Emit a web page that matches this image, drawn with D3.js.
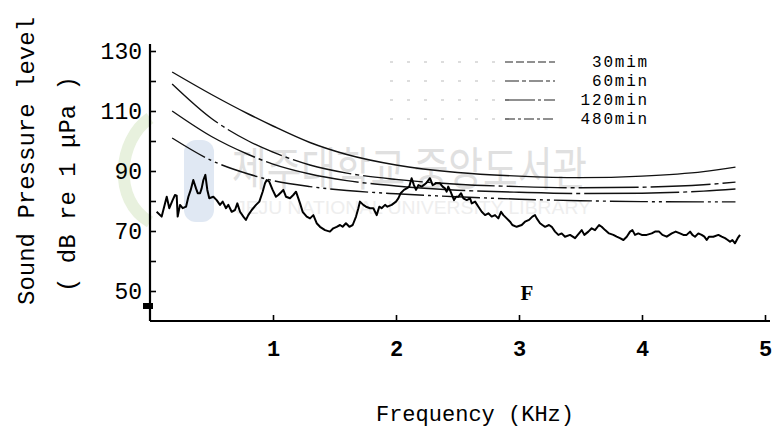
<!DOCTYPE html>
<html>
<head>
<meta charset="utf-8">
<script src="https://cdn.jsdelivr.net/npm/d3@7"></script>
<style>
  body { margin: 0; background: #fff; }
  svg { display: block; }
  .mono { font-family: "Liberation Mono", "DejaVu Sans Mono", monospace; }
</style>
</head>
<body>
<svg class="chart" width="773" height="437"></svg>
<script>
// spectrum (kHz, dB)
var specFreq = [0.054,0.095,0.122,0.136,0.157,0.184,0.203,0.217,0.225,0.244,0.266,0.293,0.312,0.331,0.352,0.374,0.388,0.407,0.42,0.434,0.45,0.466,0.482,0.515,0.542,0.569,0.591,0.618,0.637,0.664,0.691,0.71,0.732,0.759,0.78,0.799,0.827,0.862,0.889,0.916,0.935,0.949,0.97,0.997,1.024,1.043,1.07,1.084,1.106,1.138,1.165,1.187,1.206,1.22,1.241,1.274,1.301,1.328,1.355,1.382,1.423,1.463,1.49,1.518,1.545,1.566,1.593,1.621,1.648,1.675,1.694,1.707,1.734,1.756,1.789,1.816,1.843,1.864,1.883,1.911,1.93,1.965,2.0,2.019,2.038,2.065,2.087,2.108,2.127,2.146,2.163,2.182,2.209,2.244,2.276,2.298,2.325,2.358,2.379,2.398,2.412,2.425,2.444,2.461,2.472,2.488,2.507,2.529,2.548,2.575,2.602,2.616,2.643,2.67,2.697,2.724,2.751,2.778,2.805,2.832,2.854,2.873,2.9,2.927,2.946,2.981,3.022,3.049,3.082,3.109,3.13,3.144,3.171,3.19,3.212,3.244,3.266,3.293,3.32,3.347,3.374,3.415,3.456,3.488,3.51,3.531,3.564,3.591,3.618,3.651,3.672,3.7,3.732,3.767,3.794,3.821,3.849,3.876,3.903,3.922,3.943,3.97,3.998,4.038,4.079,4.106,4.139,4.166,4.201,4.242,4.274,4.309,4.336,4.363,4.391,4.41,4.431,4.458,4.485,4.507,4.526,4.545,4.58,4.621,4.648,4.675,4.697,4.716,4.735,4.756,4.778,4.797];
var specLevel = [76.4,74.8,79.2,81.4,77.6,80.3,82,81.8,74.8,78.7,77.6,78.1,81.4,83.7,87,84.2,82.6,82.6,84.2,87,88.7,83.7,80.9,81.4,80.3,78.7,79.8,77.6,78.7,76.4,77,79.2,76.4,74.8,73.7,75.3,77,78.7,79.8,83.1,85.9,87,86.4,83.7,81.4,82,83.1,83.7,81.4,80.9,82,83.1,80.9,79.2,76.4,74.8,74.2,75.3,72.6,71.4,70.3,69.8,70.9,71.4,72,71.4,72.6,71.4,72,74.8,77.6,79.8,78.7,78.1,77.6,77.6,75.3,78.1,77.6,78.7,78.1,78.7,79.8,80.9,82.6,83.7,84.2,84.8,87.6,85.3,83.7,85.3,84.8,85.9,87.6,85.3,85.9,85.9,84.8,84.2,83.1,84.8,83.1,81.4,80.3,81.4,81.4,82.6,80.9,80.3,80.9,79.2,79.8,78.1,76.4,75.3,75.9,74.8,75.3,74.2,76.4,75.3,74.2,73.1,72,71.4,72,73.1,73.7,74.8,75.3,74.2,72.6,72,71.4,72,71.4,69.8,68.7,69.2,68.1,68.7,67.6,69.2,70.3,68.7,69.8,70.9,70.3,72,71.4,70.3,69.2,68.7,68.1,67.6,67,68.1,69.8,70.3,68.7,69.2,68.7,68.7,69.2,69.8,69.8,68.7,68.1,69.2,69.8,69.2,68.7,68.7,69.8,68.7,68.1,69.2,68.7,68.1,67,68.1,68.1,68.7,68.1,67.6,67,66.4,67,65.9,67.6,68.7];

// exposure-time threshold curves
var curveFreq = [0.18,0.5,0.8,1.0,1.3,1.6,2.0,2.5,3.0,3.5,4.0,4.5,4.76];
var curve30  = [123,115.5,109,105,99.5,95.5,92,89.5,88.3,87.8,88.3,89.8,91.3];
var curve60  = [119,107.5,100,96.3,92,89.3,87.2,85.6,84.8,84.4,84.6,85.4,86.3];
var curve120 = [110,101.5,95.5,92.3,89,86.8,85,83.6,82.9,82.5,82.6,83.3,84];
var curve480 = [101,93.5,89,86.8,84.8,83.5,82.4,81.4,80.6,80.1,79.8,79.7,79.7];
var seriesNames = ["30mim", "60min", "120min", "480min"];

var xTicks = [1, 2, 3, 4, 5];
var yTicks = [50, 60, 70, 80, 90, 100, 110, 120, 130];
var yLabels = [50, 70, 90, 110, 130];

var svg = d3.select("svg.chart");

var x = d3.scaleLinear().domain([0, 5]).range([150, 765]);
var y = d3.scaleLinear().domain([40, 130]).range([321, 51]);

// faint library watermark
var wm = svg.append("g").attr("class", "watermark");
wm.append("path")
  .attr("d", "M150,118 C118,140 112,200 150,222")
  .attr("fill", "none").attr("stroke", "#e8f1de").attr("stroke-width", 12);
wm.append("rect")
  .attr("x", 184).attr("y", 140).attr("width", 30).attr("height", 82).attr("rx", 12)
  .attr("fill", "#e0e8f3");
wm.append("text")
  .attr("x", 232).attr("y", 185)
  .attr("textLength", 355).attr("lengthAdjust", "spacingAndGlyphs")
  .style("font-family", "'Noto Sans CJK KR', sans-serif")
  .style("font-size", "46px").style("fill", "#e0e0e0")
  .text("제주대학교 중앙도서관");
wm.append("text")
  .attr("x", 236).attr("y", 214)
  .attr("textLength", 355).attr("lengthAdjust", "spacingAndGlyphs")
  .style("font-family", "'Liberation Sans', sans-serif")
  .style("font-size", "19px").style("fill", "#eeeeee")
  .text("JEJU NATIONAL UNIVERSITY LIBRARY");

// axes
var xAxis = d3.axisBottom(x).tickValues(xTicks).tickSize(-6).tickPadding(19)
  .tickFormat(d3.format("d"));
var gx = svg.append("g").attr("transform", "translate(0," + y(40) + ")").call(xAxis);
gx.select(".domain").attr("d", "M" + x(0) + ",0H770");

var yAxis = d3.axisLeft(y).tickValues(yTicks).tickSize(-6).tickPadding(8)
  .tickFormat(function(d){ return yLabels.indexOf(d) >= 0 ? d : ""; });
var gy = svg.append("g").attr("transform", "translate(" + x(0) + ",0)").call(yAxis);
gy.select(".domain").attr("d", "M0,44V" + y(40));

svg.selectAll(".domain").attr("stroke", "#000").attr("stroke-width", 2.2);
svg.selectAll(".tick line").attr("stroke", "#000").attr("stroke-width", 1.6);
gx.selectAll("text").attr("class", "mono").style("font-size", "22px")
  .style("font-weight", "bold").attr("fill", "#000");
gy.selectAll("text").attr("class", "mono").style("font-size", "23px").attr("fill", "#000");

// small block on the y axis
svg.append("rect")
  .attr("x", x(0) - 7).attr("y", y(45) - 3).attr("width", 10).attr("height", 6)
  .attr("fill", "#000");

// threshold curves
var dashes = [null, "60,4,4,4", "95,4,4,4", "38,4,3,4,3,4"];
var curveSets = [curve30, curve60, curve120, curve480];
var curveLine = d3.line()
  .x(function(d){ return x(d[0]); })
  .y(function(d){ return y(d[1]); })
  .curve(d3.curveMonotoneX);

svg.selectAll(".thr").data(curveSets).enter().append("path")
  .attr("class", "thr")
  .attr("d", function(vals){ return curveLine(curveFreq.map(function(f, i){ return [f, vals[i]]; })); })
  .attr("fill", "none").attr("stroke", "#111").attr("stroke-width", 1.4)
  .attr("stroke-dasharray", function(d, i){ return dashes[i]; });

// spectrum
var spec = specFreq.map(function(f, i){ return [f, specLevel[i]]; });
svg.append("path")
  .attr("d", d3.line().x(function(d){ return x(d[0]); }).y(function(d){ return y(d[1]); })(spec))
  .attr("fill", "none").attr("stroke", "#000").attr("stroke-width", 2)
  .attr("stroke-linejoin", "round");

// legend
var leg = svg.append("g").selectAll("g").data(seriesNames).enter().append("g")
  .attr("transform", function(d, i){ return "translate(0," + (62 + i * 19) + ")"; });
leg.append("line").attr("x1", 390).attr("x2", 505).attr("y1", 0).attr("y2", 0)
  .attr("stroke", "#bbb").attr("stroke-width", 1).attr("stroke-dasharray", "3,14");
leg.append("line").attr("x1", 505).attr("x2", 555).attr("y1", 0).attr("y2", 0)
  .attr("stroke", "#222").attr("stroke-width", 1.2)
  .attr("stroke-dasharray", function(d, i){ return ["8,3", "14,3,4,3", "30,3,3,3", "10,3,3,3"][i]; });
leg.append("text").attr("class", "mono")
  .attr("x", 649).attr("y", 5).attr("text-anchor", "end")
  .style("font-size", "16px").style("letter-spacing", "1.8px").attr("fill", "#000")
  .text(function(d){ return d; });

// panel letter
svg.append("text").attr("x", 527).attr("y", 300).attr("text-anchor", "middle")
  .style("font-family", "'Liberation Serif', serif").style("font-weight", "bold")
  .style("font-size", "21px").text("F");

// axis titles
svg.append("text").attr("class", "mono")
  .attr("transform", "translate(34,161) rotate(-90)").attr("text-anchor", "middle")
  .style("font-size", "24px").text("Sound Pressure level");
svg.append("text").attr("class", "mono")
  .attr("transform", "translate(75,184) rotate(-90)").attr("text-anchor", "middle")
  .style("font-size", "24px").text("( dB re 1 μPa )");
svg.append("text").attr("class", "mono")
  .attr("x", 475).attr("y", 421).attr("text-anchor", "middle")
  .style("font-size", "22px").text("Frequency (KHz)");
</script>
</body>
</html>
